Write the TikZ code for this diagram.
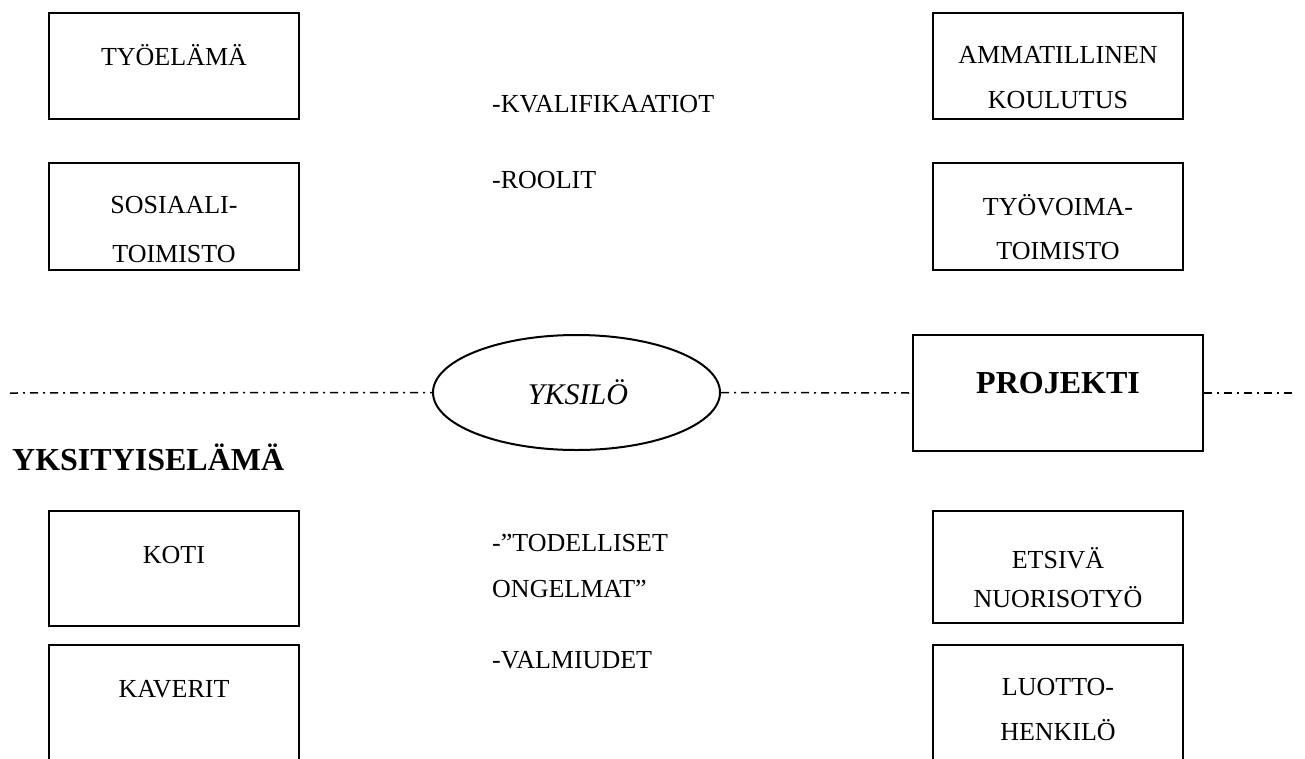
\documentclass[tikz,border=0pt]{standalone}
\usepackage{fontspec}
\setmainfont{Liberation Serif}
\usetikzlibrary{shapes.geometric}
\begin{document}
\begin{tikzpicture}[x=1pt,y=-1pt,
  boxnode/.style={draw, line width=2pt, minimum width=250pt, inner sep=0pt},
  txt/.style={anchor=base, inner sep=0pt, font=\fontsize{26}{30}\selectfont},
  ltxt/.style={txt, anchor=base west},
  divider/.style={line width=1.5pt, dash pattern=on 8pt off 5pt on 2pt off 5pt},
  bigbold/.style={inner sep=0pt, font=\fontsize{32}{36}\selectfont\bfseries}]
\clip (0,0) rectangle (1305,758);

% left column boxes
\node[boxnode, minimum height=106pt] (tyo) at (174,66) {};
\node[boxnode, minimum height=107pt] (sos) at (174,216.5) {};
\node[boxnode, minimum height=115pt] (koti) at (174,568.5) {};
\node[boxnode, minimum height=160pt] (kav) at (174,725) {};
% right column boxes
\node[boxnode, minimum height=106pt] (amm) at (1058,66) {};
\node[boxnode, minimum height=107pt] (tyov) at (1058,216.5) {};
\node[boxnode, minimum height=112pt] (ets) at (1058,567) {};
\node[boxnode, minimum height=160pt] (luo) at (1058,725) {};

% box texts
\node[txt] (tyoT) at (174,65) {TYÖELÄMÄ};
\node[txt] (sosT1) at (174,213) {SOSIAALI-};
\node[txt] (sosT2) at (174,262) {TOIMISTO};
\node[txt] (kotiT) at (174,563) {KOTI};
\node[txt] (kavT) at (174,697) {KAVERIT};
\node[txt] (ammT1) at (1058,63.5) {AMMATILLINEN};
\node[txt] (ammT2) at (1058,108.5) {KOULUTUS};
\node[txt] (tyovT1) at (1058,215) {TYÖVOIMA-};
\node[txt] (tyovT2) at (1058,259.5) {TOIMISTO};
\node[txt] (etsT1) at (1058,568) {ETSIVÄ};
\node[txt] (etsT2) at (1058,607) {NUORISOTYÖ};
\node[txt] (luoT1) at (1058,695) {LUOTTO-};
\node[txt] (luoT2) at (1058,740) {HENKILÖ};

% middle lists
\node[ltxt] (kval) at (492,112) {-KVALIFIKAATIOT};
\node[ltxt] (rool) at (492,188) {-ROOLIT};
\node[ltxt] (tod1) at (492,551) {-”TODELLISET};
\node[ltxt] (tod2) at (492,597) {ONGELMAT”};
\node[ltxt] (valm) at (492,668) {-VALMIUDET};

% centre row
\node[draw, ellipse, line width=2pt, minimum width=287pt, minimum height=115pt, inner sep=0pt] (yks) at (576.5,392.5) {};
\node[anchor=base, inner sep=0pt, font=\fontsize{30}{34}\selectfont\itshape] (yksT) at (578,404) {YKSILÖ};
\node[draw, line width=2.6pt, minimum width=290pt, minimum height=116pt, inner sep=0pt] (proj) at (1058,393) {};
\node[bigbold, anchor=base] (projT) at (1058,393) {PROJEKTI};
\node[bigbold, anchor=base west] (yksit) at (12,470) {YKSITYISELÄMÄ};

% divider line
\coordinate (lineL) at (10,393);
\coordinate (lineR) at (1297,393);
\draw[divider] (lineL) -- (yks.west);
\draw[divider] (yks.east) -- (proj.west);
\draw[divider] (proj.east) -- (lineR);
\end{tikzpicture}
\end{document}
